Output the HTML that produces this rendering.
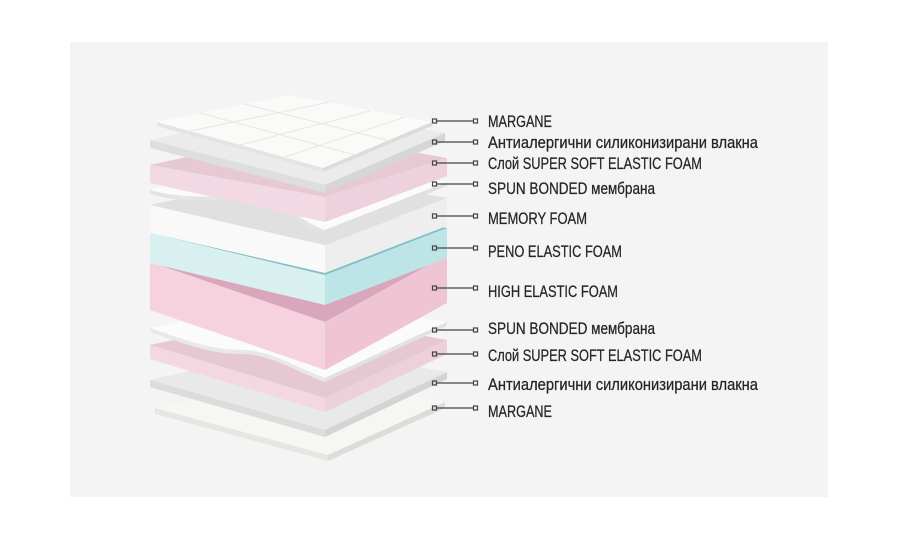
<!DOCTYPE html>
<html><head><meta charset="utf-8"><style>
html,body{margin:0;padding:0;background:#fff;}
svg{display:block;}
text{font-family:"Liberation Sans","DejaVu Sans",sans-serif;font-size:16.5px;fill:#252525;stroke:#252525;stroke-width:0.25;}
</style></head><body>
<svg width="900" height="540" viewBox="0 0 900 540" xmlns="http://www.w3.org/2000/svg">
<rect x="70" y="42" width="758" height="455" fill="#f4f4f4"/>
<g stroke="none">
<polygon points="155,408 300,375 445,402 328,455" fill="#f6f6f2"/>
<polygon points="155,408 328,455 328,461 155,414" fill="#e6e6e2"/>
<polygon points="328,455 445,402 445,408 328,461" fill="#dcdcd8"/>
<polygon points="150,380 300,345 447,372 325,430" fill="#e9e9e9"/>
<polygon points="150,380 325,430 325,437 150,387" fill="#dcdcdc"/>
<polygon points="325,430 447,372 447,379 325,437" fill="#d4d4d4"/>
<polygon points="150,345 300,313 447,340 325,398" fill="#e6c8d3"/>
<polygon points="150,345 325,398 325,412 150,359" fill="#f3d8e2"/>
<polygon points="325,398 447,340 447,354 325,412" fill="#ecd0da"/>
<path d="M150,328 L300,296 L447,322 L325,378 C290,365 270,350 240,350 C210,350 185,340 150,328Z" fill="#fbfbfb"/>
<path d="M150,328 C185,340 210,350 240,350 C270,350 290,365 325,378 L325,382 C290,369 270,354 240,354 C210,354 185,344 150,332Z" fill="#e8e8e8"/>
<polygon points="325,378 447,322 447,326 325,382" fill="#e2e2e2"/>
<polygon points="150,262 300,228 447,255 325,322" fill="#d9a7bb"/>
<polygon points="150,262 325,322 325,370 150,310" fill="#f6d1de"/>
<polygon points="325,322 447,255 447,303 325,370" fill="#efc4d3"/>
<polygon points="150,233 300,200 447,228 325,275" fill="#7fc0c5"/>
<polygon points="150,233 325,275 325,305 150,263" fill="#d9f0f1"/>
<polygon points="325,275 447,228 447,258 325,305" fill="#bde4e6"/>
<polygon points="150,205 300,172 447,198 325,245" fill="#e0e0e0"/>
<polygon points="150,205 325,245 325,273 150,233" fill="#f9f9f9"/>
<polygon points="325,245 447,198 447,226 325,273" fill="#eeeeee"/>
<path d="M150,190 L300,156 L447,182 L325,230 C300,222 285,200 255,198 C215,195 185,200 150,190Z" fill="#fbfbfb"/>
<path d="M150,190 C185,200 215,195 255,198 C285,200 300,222 325,230 L325,234 C300,226 285,204 255,202 C215,199 185,204 150,194Z" fill="#e4e4e4"/>
<polygon points="325,230 447,182 447,186 325,234" fill="#e0e0e0"/>
<polygon points="150,165 300,132 447,158 325,197" fill="#e7c9d4"/>
<polygon points="150,165 325,197 325,222 150,183" fill="#f3d9e3"/>
<polygon points="325,197 447,158 447,176 325,222" fill="#edd1dc"/>
<polygon points="150,140 300,106 445,133 325,185" fill="#ebebeb"/>
<polygon points="150,140 325,185 325,193 150,148" fill="#dedede"/>
<polygon points="325,185 445,133 445,141 325,193" fill="#d6d6d6"/>
<polygon points="157,122 290,95 432,122 323,168" fill="#fafaf8"/>
<polygon points="157,122 323,168 323,172 157,126" fill="#e4e4e2"/>
<polygon points="323,168 432,122 432,126 323,172" fill="#dcdcda"/>
<g stroke="#e6e6e2" stroke-width="1" fill="none">
<line x1="200" y1="113" x2="355" y2="155"/><line x1="245" y1="104" x2="390" y2="141"/>
<line x1="190" y1="131" x2="330" y2="102"/><line x1="240" y1="145" x2="370" y2="111"/>
<line x1="285" y1="157" x2="405" y2="117"/>
</g>
</g>
<g stroke="#444" stroke-width="1.2" fill="none">
<line x1="436" y1="121" x2="473" y2="121"/><rect x="432.5" y="119" width="4" height="4"/><rect x="473.5" y="119" width="4" height="4"/>
<line x1="436" y1="142" x2="473" y2="142"/><rect x="432.5" y="140" width="4" height="4"/><rect x="473.5" y="140" width="4" height="4"/>
<line x1="436" y1="163" x2="473" y2="163"/><rect x="432.5" y="161" width="4" height="4"/><rect x="473.5" y="161" width="4" height="4"/>
<line x1="436" y1="184" x2="473" y2="184"/><rect x="432.5" y="182" width="4" height="4"/><rect x="473.5" y="182" width="4" height="4"/>
<line x1="436" y1="216" x2="473" y2="216"/><rect x="432.5" y="214" width="4" height="4"/><rect x="473.5" y="214" width="4" height="4"/>
<line x1="436" y1="248" x2="473" y2="248"/><rect x="432.5" y="246" width="4" height="4"/><rect x="473.5" y="246" width="4" height="4"/>
<line x1="436" y1="288" x2="473" y2="288"/><rect x="432.5" y="286" width="4" height="4"/><rect x="473.5" y="286" width="4" height="4"/>
<line x1="436" y1="330" x2="473" y2="330"/><rect x="432.5" y="328" width="4" height="4"/><rect x="473.5" y="328" width="4" height="4"/>
<line x1="436" y1="354" x2="473" y2="354"/><rect x="432.5" y="352" width="4" height="4"/><rect x="473.5" y="352" width="4" height="4"/>
<line x1="436" y1="383" x2="473" y2="383"/><rect x="432.5" y="381" width="4" height="4"/><rect x="473.5" y="381" width="4" height="4"/>
<line x1="436" y1="408" x2="473" y2="408"/><rect x="432.5" y="406" width="4" height="4"/><rect x="473.5" y="406" width="4" height="4"/>
</g>
<g>
<text x="488" y="127" textLength="64" lengthAdjust="spacingAndGlyphs">MARGANE</text>
<text x="488" y="148" textLength="270" lengthAdjust="spacingAndGlyphs">Антиалергични силиконизирани влакна</text>
<text x="488" y="169" textLength="214" lengthAdjust="spacingAndGlyphs">Слой SUPER SOFT ELASTIC FOAM</text>
<text x="488" y="194" textLength="167" lengthAdjust="spacingAndGlyphs">SPUN BONDED мембрана</text>
<text x="488" y="224" textLength="99" lengthAdjust="spacingAndGlyphs">MEMORY FOAM</text>
<text x="488" y="257" textLength="134" lengthAdjust="spacingAndGlyphs">PENO ELASTIC FOAM</text>
<text x="488" y="297" textLength="130" lengthAdjust="spacingAndGlyphs">HIGH ELASTIC FOAM</text>
<text x="488" y="334" textLength="167" lengthAdjust="spacingAndGlyphs">SPUN BONDED мембрана</text>
<text x="488" y="361" textLength="214" lengthAdjust="spacingAndGlyphs">Слой SUPER SOFT ELASTIC FOAM</text>
<text x="488" y="390" textLength="270" lengthAdjust="spacingAndGlyphs">Антиалергични силиконизирани влакна</text>
<text x="488" y="417" textLength="64" lengthAdjust="spacingAndGlyphs">MARGANE</text>
</g>
</svg>
</body></html>
